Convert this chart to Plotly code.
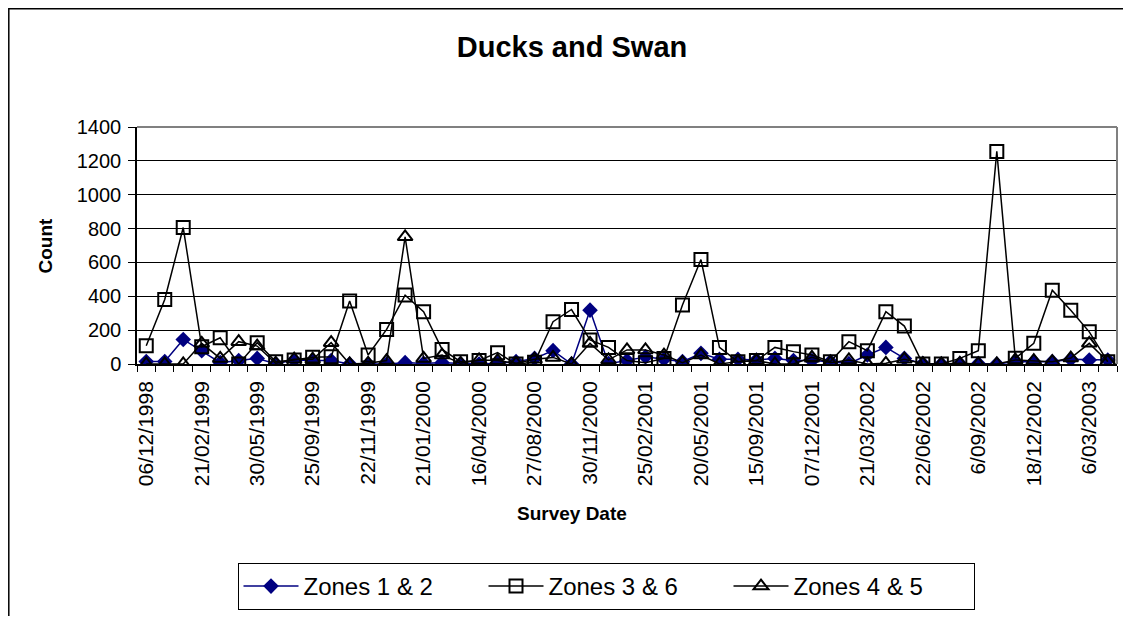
import plotly.graph_objects as go

# tick labels shown on every third survey
tick_dates = [
    "06/12/1998", "21/02/1999", "30/05/1999", "25/09/1999", "22/11/1999",
    "21/01/2000", "16/04/2000", "27/08/2000", "30/11/2000", "25/02/2001",
    "20/05/2001", "15/09/2001", "07/12/2001", "21/03/2002", "22/06/2002",
    "6/09/2002", "18/12/2002", "6/03/2003",
]

zones_1_2 = [15, 15, 145, 79, 8, 20, 33, 2, 24, 20, 20, 0, 0, 0, 8, 4, 8, 2,
             0, 4, 14, 33, 79, 0, 318, 2, 20, 43, 28, 14, 63, 28, 28, 24, 33,
             20, 20, 14, 2, 53, 98, 33, 2, 0, 2, 2, 0, 14, 14, 14, 28, 24, 24]
zones_3_6 = [108, 381, 806, 102, 155, 0, 126, 14, 24, 40, 43, 372, 53, 204,
             407, 309, 86, 14, 20, 67, 0, 10, 250, 322, 142, 98, 20, 8, 33,
             348, 617, 98, 14, 20, 98, 73, 53, 14, 132, 79, 309, 224, 0, 0,
             33, 79, 1256, 34, 122, 436, 318, 190, 14]
zones_4_5 = [0, 0, 0, 122, 33, 132, 106, 4, 28, 28, 126, 0, 4, 20, 751, 33,
             53, 4, 24, 20, 4, 28, 39, 0, 122, 24, 83, 83, 53, 8, 53, 0, 14,
             20, 0, 0, 39, 8, 24, 0, 4, 28, 2, 0, 4, 0, 0, 24, 20, 14, 35,
             122, 15]

survey = list(range(len(zones_1_2)))
tick_pos = survey[::3]

FONT = "Arial, Liberation Sans, sans-serif"
OFF = 8  # page body margin
W, H = 1131 - 2 * OFF, 624 - 2 * OFF
L, R, T, B = 137 - OFF, 1117 - OFF, 127 - OFF, 364 - OFF


def px_x(x):
    return (x - OFF - L) / (R - L)


def px_y(y):
    return (B - (y - OFF)) / (B - T)


fig = go.Figure()

fig.add_trace(go.Scatter(
    x=survey, y=zones_1_2, name="Zones 1 & 2", mode="lines+markers",
    line=dict(color="#000080", width=1.5),
    marker=dict(symbol="diamond", size=12, color="#000080"),
))
fig.add_trace(go.Scatter(
    x=survey, y=zones_3_6, name="Zones 3 & 6", mode="lines+markers",
    line=dict(color="black", width=1.5),
    marker=dict(symbol="square-open", size=13, color="black",
                line=dict(width=2)),
))
fig.add_trace(go.Scatter(
    x=survey, y=zones_4_5, name="Zones 4 & 5", mode="lines+markers",
    line=dict(color="black", width=1.5),
    marker=dict(symbol="triangle-up-open", size=13, color="black",
                line=dict(width=2)),
))

fig.update_layout(
    width=W, height=H,
    margin=dict(l=L, r=W - R, t=T, b=H - B, autoexpand=False),
    paper_bgcolor="white", plot_bgcolor="white",
    font=dict(family=FONT, color="black"),
    title=dict(text="<b>Ducks and Swan</b>", font=dict(size=29),
               xref="paper", x=px_x(572), xanchor="center",
               yref="container", y=1 - (47 - OFF) / H, yanchor="middle"),
    showlegend=True,
    legend=dict(orientation="h", xref="paper", x=px_x(606), xanchor="center",
                yref="paper", y=px_y(563), yanchor="top",
                bordercolor="black", borderwidth=1, font=dict(size=24),
                itemwidth=55, entrywidth=175, tracegroupgap=0),
    annotations=[
        dict(text="<b>Count</b>", textangle=-90, xref="paper", yref="paper",
             x=px_x(45), y=0.5, xanchor="center", yanchor="middle",
             showarrow=False, font=dict(size=19)),
        dict(text="<b>Survey Date</b>", xref="paper", yref="paper",
             x=px_x(572), y=px_y(513), xanchor="center", yanchor="middle",
             showarrow=False, font=dict(size=19)),
    ],
    shapes=[
        # plot area border (top / right)
        dict(type="line", xref="paper", yref="paper", x0=0, x1=1, y0=1, y1=1,
             line=dict(color="#808080", width=2), layer="above"),
        dict(type="line", xref="paper", yref="paper", x0=1, x1=1, y0=0, y1=1,
             line=dict(color="#808080", width=2), layer="above"),
        # chart area border
        dict(type="rect", xref="paper", yref="paper",
             x0=px_x(8.8), x1=px_x(1160), y0=px_y(660), y1=px_y(8.8),
             line=dict(color="black", width=1.5)),
    ],
)

fig.update_xaxes(
    range=[-0.5, len(survey) - 0.5],
    tickmode="array", tickvals=tick_pos, ticktext=tick_dates,
    tickangle=-90, tickfont=dict(size=21), ticklabelstandoff=7,
    ticks="outside", ticklen=0, tickcolor="rgba(0,0,0,0)",
    minor=dict(tickmode="linear", tick0=-0.5, dtick=1, ticks="outside",
               ticklen=6, tickcolor="black", showgrid=False),
    showline=True, linecolor="black", linewidth=1.5,
    showgrid=False, zeroline=False,
)
fig.update_yaxes(
    range=[0, 1400], dtick=200, tickfont=dict(size=20),
    ticks="outside", ticklen=7, tickcolor="black", ticklabelstandoff=3,
    showline=True, linecolor="black", linewidth=1.5,
    showgrid=True, gridcolor="black", gridwidth=1, zeroline=False,
)

fig.write_html("out.html")
